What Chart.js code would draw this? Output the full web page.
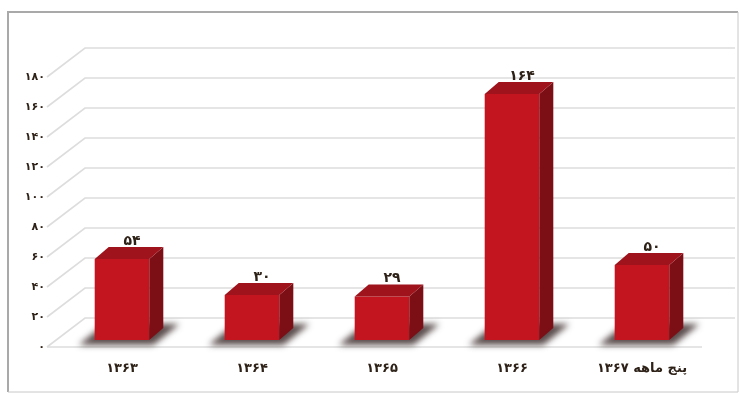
<!DOCTYPE html>
<html>
<head>
<meta charset="utf-8">
<script src="https://cdn.jsdelivr.net/npm/chart.js@4.4.1/dist/chart.umd.min.js"></script>
<style>
  html, body { margin: 0; padding: 0; background: #fff; }
  #wrap { width: 740px; height: 395px; }
</style>
</head>
<body>
<div id="wrap"><canvas id="chart" width="740" height="395"></canvas></div>
<script>
const categories = ['۱۳۶۳', '۱۳۶۴', '۱۳۶۵', '۱۳۶۶', 'پنج ماهه ۱۳۶۷']
const values = [54, 30, 29, 164, 50]
const valueLabels = ['۵۴', '۳۰', '۲۹', '۱۶۴', '۵۰']
const yTickLabels = ['۰', '۲۰', '۴۰', '۶۰', '۸۰', '۱۰۰', '۱۲۰', '۱۴۰', '۱۶۰', '۱۸۰']

const FONT = '"DejaVu Sans", sans-serif'
const TEXT = '#2e2218'

// depth of each bar, and where the back wall / front edge sit relative to the bar plane
const DEPTH_X = 14, DEPTH_Y = -12
const WALL_X = 28, WALL_Y = -22
const FRONT_X = -10, FRONT_Y = 7

// thin border round the whole chart
const frame = {
  id: 'frame',
  beforeDraw(chart) {
    const ctx = chart.ctx
    ctx.save()
    ctx.strokeStyle = '#a9a9a9'
    ctx.lineWidth = 2
    ctx.beginPath()
    ctx.moveTo(8, 392)
    ctx.lineTo(8, 12)
    ctx.lineTo(738, 12)
    ctx.stroke()
    ctx.strokeStyle = '#c8c8c8'
    ctx.lineWidth = 1
    ctx.beginPath()
    ctx.moveTo(738, 12)
    ctx.lineTo(738, 392)
    ctx.lineTo(8, 392)
    ctx.stroke()
    ctx.restore()
  }
}

const bars3d = {
  id: 'bars3d',
  beforeDatasetsDraw(chart) {
    const { ctx, chartArea, scales: { y } } = chart
    ctx.save()

    // gridlines: short diagonal from the front edge, then along the back wall
    ctx.strokeStyle = '#dddddd'
    ctx.lineWidth = 1.6
    y.ticks.forEach(t => {
      const py = y.getPixelForValue(t.value)
      ctx.beginPath()
      ctx.moveTo(chartArea.left + FRONT_X, py + FRONT_Y)
      ctx.lineTo(chartArea.left + WALL_X, py + WALL_Y)
      ctx.lineTo(735, py + WALL_Y)
      ctx.stroke()
    })

    // front edge of the floor
    const p0 = y.getPixelForValue(0)
    ctx.beginPath()
    ctx.moveTo(chartArea.left + FRONT_X, p0 + FRONT_Y)
    ctx.lineTo(chartArea.right - 5, p0 + FRONT_Y)
    ctx.stroke()

    // soft shadows on the floor
    const meta = chart.getDatasetMeta(0)
    ctx.filter = 'blur(3px)'
    ctx.fillStyle = 'rgba(50, 32, 32, 0.8)'
    meta.data.forEach(bar => {
      const { x, base, width } = bar.getProps(['x', 'base', 'width'], true)
      const l = x - width / 2, r = x + width / 2
      ctx.beginPath()
      ctx.moveTo(l - 16, base + 5)
      ctx.lineTo(r + 4, base + 5)
      ctx.lineTo(r + DEPTH_X + 16, base + DEPTH_Y - 4)
      ctx.lineTo(l + DEPTH_X - 4, base + DEPTH_Y - 4)
      ctx.closePath()
      ctx.fill()
    })
    ctx.restore()
  },
  afterDatasetsDraw(chart) {
    const ctx = chart.ctx
    const meta = chart.getDatasetMeta(0)
    ctx.save()
    meta.data.forEach((bar, i) => {
      const { x, y: top, base, width } = bar.getProps(['x', 'y', 'base', 'width'], true)
      const l = x - width / 2, r = x + width / 2

      // side face
      ctx.fillStyle = '#7c0f16'
      ctx.beginPath()
      ctx.moveTo(r, top)
      ctx.lineTo(r + DEPTH_X, top + DEPTH_Y)
      ctx.lineTo(r + DEPTH_X, base + DEPTH_Y)
      ctx.lineTo(r, base)
      ctx.closePath()
      ctx.fill()

      // top face
      ctx.fillStyle = '#9e131c'
      ctx.beginPath()
      ctx.moveTo(l, top)
      ctx.lineTo(l + DEPTH_X, top + DEPTH_Y)
      ctx.lineTo(r + DEPTH_X, top + DEPTH_Y)
      ctx.lineTo(r, top)
      ctx.closePath()
      ctx.fill()

      // value label
      ctx.fillStyle = TEXT
      ctx.font = 'bold 14px ' + FONT
      ctx.textAlign = 'center'
      ctx.textBaseline = 'middle'
      ctx.fillText(valueLabels[i], x + 10, top + DEPTH_Y - 6)
    })
    ctx.restore()
  }
}

new Chart(document.getElementById('chart'), {
  type: 'bar',
  data: {
    labels: categories,
    datasets: [{
      data: values,
      backgroundColor: '#c2151f',
      borderWidth: 0,
      categoryPercentage: 1,
      barPercentage: 0.42
    }]
  },
  options: {
    responsive: false,
    animation: false,
    layout: { padding: { left: 7, right: 33, top: 70, bottom: 0 } },
    plugins: {
      legend: { display: false },
      tooltip: { enabled: false }
    },
    scales: {
      x: {
        grid: { display: false, drawTicks: false },
        border: { display: false },
        ticks: {
          padding: 21,
          color: TEXT,
          font: { family: FONT, size: 13, weight: 'bold' }
        },
        afterFit(scale) { scale.height = 55 }
      },
      y: {
        min: 0,
        max: 180,
        grid: { display: false, drawTicks: false },
        border: { display: false },
        ticks: {
          stepSize: 20,
          padding: 12,
          labelOffset: 7,
          color: TEXT,
          font: { family: FONT, size: 11, weight: 'bold' },
          callback: (value, index) => yTickLabels[index]
        },
        afterFit(scale) { scale.width = 50 }
      }
    }
  },
  plugins: [frame, bars3d]
})
</script>
</body>
</html>
